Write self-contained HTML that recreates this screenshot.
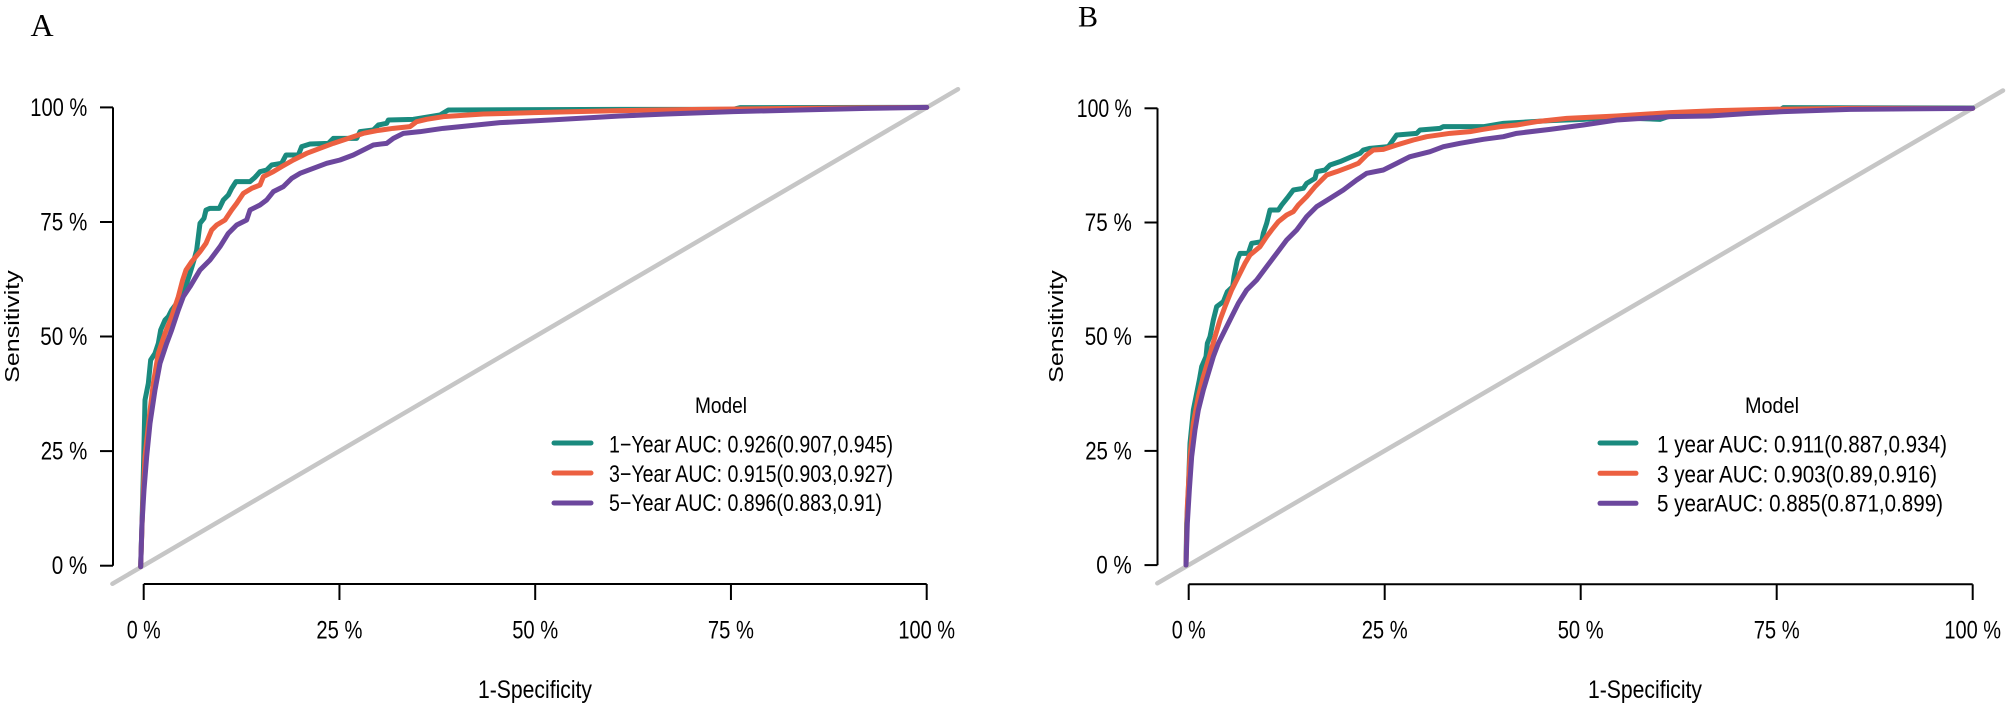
<!DOCTYPE html>
<html>
<head>
<meta charset="utf-8">
<style>
html,body{margin:0;padding:0;background:#fff;}
svg{display:block;}
text{font-family:"Liberation Sans",Arial,sans-serif;fill:#000;}
.serif{font-family:"Liberation Serif","Times New Roman",serif;}
</style>
</head>
<body>
<svg width="2006" height="708" viewBox="0 0 2006 708" xmlns="http://www.w3.org/2000/svg">
<rect width="2006" height="708" fill="#fff"/>

<!-- ================= PANEL A ================= -->
<text class="serif" x="30.5" y="36" font-size="32">A</text>

<!-- diagonal -->
<line x1="112.4" y1="583.8" x2="958" y2="89.2" stroke="#C6C6C6" stroke-width="4.5" stroke-linecap="round"/>

<!-- axes -->
<g stroke="#000" stroke-width="2" fill="none">
  <line x1="113" y1="107.4" x2="113" y2="565.7"/>
  <line x1="100" y1="107.4" x2="113" y2="107.4"/>
  <line x1="100" y1="222" x2="113" y2="222"/>
  <line x1="100" y1="336.5" x2="113" y2="336.5"/>
  <line x1="100" y1="451.1" x2="113" y2="451.1"/>
  <line x1="100" y1="565.7" x2="113" y2="565.7"/>
  <line x1="143.7" y1="584" x2="926.7" y2="584"/>
  <line x1="143.7" y1="584" x2="143.7" y2="600"/>
  <line x1="339.45" y1="584" x2="339.45" y2="600"/>
  <line x1="535.2" y1="584" x2="535.2" y2="600"/>
  <line x1="730.95" y1="584" x2="730.95" y2="600"/>
  <line x1="926.7" y1="584" x2="926.7" y2="600"/>
</g>

<!-- y tick labels A -->
<g font-size="25">
  <text x="30.3" y="115.9" textLength="57" lengthAdjust="spacingAndGlyphs">100 %</text>
  <text x="40.3" y="230.5" textLength="47" lengthAdjust="spacingAndGlyphs">75 %</text>
  <text x="40.3" y="345" textLength="47" lengthAdjust="spacingAndGlyphs">50 %</text>
  <text x="40.7" y="459.6" textLength="46.6" lengthAdjust="spacingAndGlyphs">25 %</text>
  <text x="51.7" y="574.2" textLength="35.6" lengthAdjust="spacingAndGlyphs">0 %</text>
</g>
<!-- x tick labels A -->
<g font-size="25">
  <text x="126.7" y="638.5" textLength="34" lengthAdjust="spacingAndGlyphs">0 %</text>
  <text x="316.4" y="638.5" textLength="46" lengthAdjust="spacingAndGlyphs">25 %</text>
  <text x="512.2" y="638.5" textLength="46" lengthAdjust="spacingAndGlyphs">50 %</text>
  <text x="707.9" y="638.5" textLength="46" lengthAdjust="spacingAndGlyphs">75 %</text>
  <text x="898.4" y="638.5" textLength="56.7" lengthAdjust="spacingAndGlyphs">100 %</text>
</g>
<!-- axis titles A -->
<text transform="translate(19,326.5) scale(0.83,1) rotate(-90)" text-anchor="middle" font-size="25">Sensitivity</text>
<text x="478" y="698" font-size="25" textLength="114" lengthAdjust="spacingAndGlyphs">1-Specificity</text>

<!-- curves A -->
<g transform="translate(100,90) scale(0.333333)" fill="none" stroke-linejoin="round" stroke-linecap="round">
  <polyline vector-effect="non-scaling-stroke" stroke="#1A8A7E" stroke-width="5" points="122,1430 126,1300 130,1150 135,930 145,880 152,810 165,790 175,760 182,720 195,690 205,680 215,660 230,640 245,610 260,580 270,550 282,510 290,480 295,440 300,400 312,385 318,360 330,355 358,355 370,330 385,315 395,295 408,275 450,275 465,262 480,245 500,240 515,225 545,220 558,195 595,195 605,170 630,162 685,160 700,145 770,145 780,125 820,120 835,105 860,100 865,90 940,88 1020,75 1045,60 1560,58 1900,58 1920,53 2480,52"/>
  <polyline vector-effect="non-scaling-stroke" stroke="#EC6041" stroke-width="5" points="122,1430 128,1250 135,1100 148,980 160,880 175,790 195,730 215,680 235,620 248,570 258,540 275,515 300,485 318,460 335,420 350,405 375,390 395,360 410,340 430,310 455,295 480,285 490,260 520,245 545,230 580,210 620,190 660,175 700,160 745,145 790,130 830,122 880,115 930,110 950,95 980,88 1030,80 1150,72 1300,68 1560,62 1800,58 2100,55 2480,52"/>
  <polyline vector-effect="non-scaling-stroke" stroke="#6C479D" stroke-width="5" points="122,1430 126,1300 132,1200 140,1100 150,1000 165,900 180,820 200,760 215,720 235,660 250,620 270,590 300,540 330,510 360,470 385,430 410,405 440,390 450,360 480,345 500,330 520,305 550,290 575,265 600,250 640,235 680,220 720,210 760,195 790,180 820,165 860,160 880,145 910,130 960,125 1030,115 1100,108 1200,98 1350,90 1560,78 1700,72 1900,65 2100,60 2300,55 2480,52"/>
</g>

<!-- legend A -->
<text x="721" y="413" font-size="22" text-anchor="middle" textLength="52" lengthAdjust="spacingAndGlyphs">Model</text>
<g stroke-width="5" stroke-linecap="round">
  <line x1="554" y1="443" x2="591" y2="443" stroke="#1A8A7E"/>
  <line x1="554" y1="473" x2="591" y2="473" stroke="#EC6041"/>
  <line x1="554" y1="503" x2="591" y2="503" stroke="#6C479D"/>
</g>
<g font-size="24">
  <text x="609" y="452.7" textLength="284" lengthAdjust="spacingAndGlyphs">1−Year AUC: 0.926(0.907,0.945)</text>
  <text x="609" y="482" textLength="284" lengthAdjust="spacingAndGlyphs">3−Year AUC: 0.915(0.903,0.927)</text>
  <text x="609" y="511" textLength="273" lengthAdjust="spacingAndGlyphs">5−Year AUC: 0.896(0.883,0.91)</text>
</g>

<!-- ================= PANEL B ================= -->
<text class="serif" x="1078" y="26.7" font-size="30">B</text>

<line x1="1157.3" y1="583.3" x2="2003" y2="90.5" stroke="#C6C6C6" stroke-width="4.5" stroke-linecap="round"/>

<g stroke="#000" stroke-width="2" fill="none">
  <line x1="1157.5" y1="108.3" x2="1157.5" y2="565.1"/>
  <line x1="1144.5" y1="108.3" x2="1157.5" y2="108.3"/>
  <line x1="1144.5" y1="222.5" x2="1157.5" y2="222.5"/>
  <line x1="1144.5" y1="336.7" x2="1157.5" y2="336.7"/>
  <line x1="1144.5" y1="450.9" x2="1157.5" y2="450.9"/>
  <line x1="1144.5" y1="565.1" x2="1157.5" y2="565.1"/>
  <line x1="1188.7" y1="584.3" x2="1972.7" y2="584.3"/>
  <line x1="1188.7" y1="584.3" x2="1188.7" y2="600"/>
  <line x1="1384.7" y1="584.3" x2="1384.7" y2="600"/>
  <line x1="1580.7" y1="584.3" x2="1580.7" y2="600"/>
  <line x1="1776.7" y1="584.3" x2="1776.7" y2="600"/>
  <line x1="1972.7" y1="584.3" x2="1972.7" y2="600"/>
</g>

<g font-size="25">
  <text x="1076.8" y="116.8" textLength="55" lengthAdjust="spacingAndGlyphs">100 %</text>
  <text x="1084.8" y="231" textLength="47" lengthAdjust="spacingAndGlyphs">75 %</text>
  <text x="1084.8" y="345.2" textLength="47" lengthAdjust="spacingAndGlyphs">50 %</text>
  <text x="1085.2" y="459.4" textLength="46.6" lengthAdjust="spacingAndGlyphs">25 %</text>
  <text x="1096.2" y="573.6" textLength="35.6" lengthAdjust="spacingAndGlyphs">0 %</text>
</g>
<g font-size="25">
  <text x="1171.7" y="638.7" textLength="34" lengthAdjust="spacingAndGlyphs">0 %</text>
  <text x="1361.7" y="638.7" textLength="46" lengthAdjust="spacingAndGlyphs">25 %</text>
  <text x="1557.7" y="638.7" textLength="46" lengthAdjust="spacingAndGlyphs">50 %</text>
  <text x="1753.7" y="638.7" textLength="46" lengthAdjust="spacingAndGlyphs">75 %</text>
  <text x="1944.4" y="638.7" textLength="56.7" lengthAdjust="spacingAndGlyphs">100 %</text>
</g>
<text transform="translate(1063,326.5) scale(0.83,1) rotate(-90)" text-anchor="middle" font-size="25">Sensitivity</text>
<text x="1588" y="698" font-size="25" textLength="114" lengthAdjust="spacingAndGlyphs">1-Specificity</text>

<g transform="translate(1150,90) scale(0.333333)" fill="none" stroke-linejoin="round" stroke-linecap="round">
  <polyline vector-effect="non-scaling-stroke" stroke="#1A8A7E" stroke-width="5" points="108,1425 110,1300 115,1200 120,1060 130,960 138,920 148,870 155,830 168,800 172,760 180,740 190,690 200,650 220,635 232,605 248,590 252,560 262,510 270,490 295,490 305,460 335,455 340,430 350,400 360,360 385,360 395,345 415,320 430,300 460,295 470,280 495,265 500,245 525,240 540,225 570,215 605,200 630,190 640,180 660,175 715,170 740,135 800,130 810,120 870,115 880,110 1000,110 1060,100 1200,92 1300,88 1400,80 1450,85 1530,88 1560,78 1680,72 1750,62 1890,60 1900,53 2468,54"/>
  <polyline vector-effect="non-scaling-stroke" stroke="#EC6041" stroke-width="5" points="108,1425 112,1250 120,1100 130,1000 145,920 160,860 178,800 195,740 210,690 225,650 245,600 265,560 285,520 300,495 330,470 350,440 365,420 385,395 410,375 430,365 445,345 470,320 495,290 515,270 530,255 560,245 600,230 625,220 650,195 670,180 700,178 740,165 790,150 830,140 900,130 960,125 1000,118 1050,110 1100,105 1160,95 1250,85 1400,78 1560,68 1700,62 1850,58 2100,55 2468,55"/>
  <polyline vector-effect="non-scaling-stroke" stroke="#6C479D" stroke-width="5" points="108,1425 112,1300 118,1200 125,1100 135,1020 145,960 160,900 175,850 190,800 205,760 225,720 245,680 265,640 290,600 320,570 350,530 380,490 410,450 440,420 470,380 500,350 540,325 580,300 620,270 650,250 700,240 740,220 780,200 840,185 880,170 930,160 1000,148 1060,140 1100,130 1200,118 1300,105 1400,90 1560,80 1680,78 1800,70 1900,65 2100,58 2468,55"/>
</g>

<text x="1772" y="413" font-size="22" text-anchor="middle" textLength="54" lengthAdjust="spacingAndGlyphs">Model</text>
<g stroke-width="5" stroke-linecap="round">
  <line x1="1600" y1="443" x2="1636" y2="443" stroke="#1A8A7E"/>
  <line x1="1600" y1="473.3" x2="1636" y2="473.3" stroke="#EC6041"/>
  <line x1="1600" y1="503.3" x2="1636" y2="503.3" stroke="#6C479D"/>
</g>
<g font-size="24">
  <text x="1657" y="452.7" textLength="290" lengthAdjust="spacingAndGlyphs">1 year AUC: 0.911(0.887,0.934)</text>
  <text x="1657" y="482.3" textLength="280" lengthAdjust="spacingAndGlyphs">3 year AUC: 0.903(0.89,0.916)</text>
  <text x="1657" y="511.5" textLength="286" lengthAdjust="spacingAndGlyphs">5 yearAUC: 0.885(0.871,0.899)</text>
</g>
</svg>
</body>
</html>
